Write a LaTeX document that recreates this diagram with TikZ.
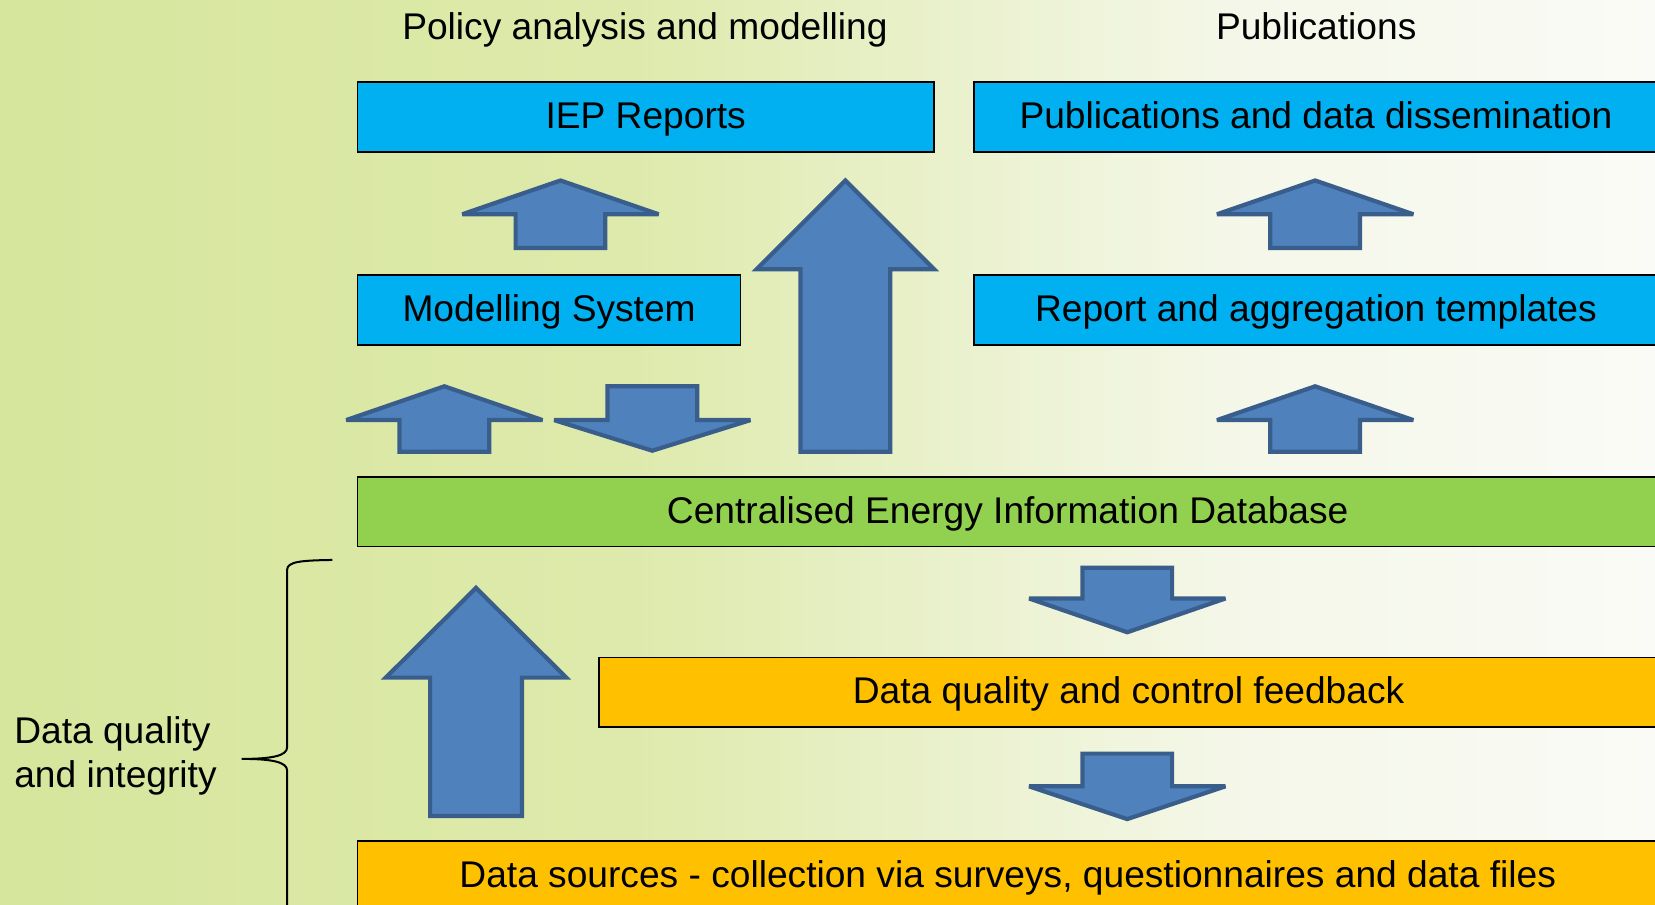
\documentclass[tikz,border=0pt]{standalone}
\usepackage{fontspec}
\setmainfont{Liberation Sans}
\usetikzlibrary{
    positioning % for placing nodes relative to other nodes
}

\definecolor{boxblue}{HTML}{00B0F0}
\definecolor{boxgreen}{HTML}{92D050}
\definecolor{boxorange}{HTML}{FFC000}
\definecolor{arrowfill}{HTML}{4F81BD}
\definecolor{arrowline}{HTML}{3A5E8C}
\definecolor{bgleft}{RGB}{214,230,156}
\definecolor{bgmid}{RGB}{222,234,172}
\definecolor{bglight}{RGB}{244,247,232}
\definecolor{bgright}{RGB}{250,251,246}

\pgfdeclarehorizontalshading{slidebg}{100bp}{color(0bp)=(bgleft); color(25bp)=(bgleft);
    color(44bp)=(bgmid); color(62bp)=(bglight); color(75bp)=(bgright); color(100bp)=(bgright)}

% block arrow: centre x, tip y, head base y, tail y, half head width, half shaft width
\newcommand{\blockarrow}[6]{
    \filldraw[block arrow] (#1,#2) -- ({#1+#5},#3) -- ({#1+#6},#3) -- ({#1+#6},#4)
        -- ({#1-#6},#4) -- ({#1-#6},#3) -- ({#1-#5},#3) -- cycle;
}

\begin{document}
\begin{tikzpicture}[
    x=1pt,y=-1pt,
    every node/.style   = {font=\fontsize{35.2}{42.2}\selectfont},
    one line/.style     = {text height=26pt,text depth=4.4pt},
    box/.style          = {one line,draw=black,line width=1.5pt,inner sep=0pt,minimum height=66pt},
    blue box/.style     = {box,fill=boxblue},
    green box/.style    = {box,fill=boxgreen},
    orange box/.style   = {box,fill=boxorange},
    block arrow/.style  = {fill=arrowfill,draw=arrowline,line width=4pt,miter limit=3},
    brace line/.style   = {draw=black,line width=1.9pt}
]

\useasboundingbox (0,0) rectangle (1568,857);
\clip (0,0) rectangle (1568,857);
\shade[shading=slidebg] (0,0) rectangle (1568,857);

% column headings

    \node [one line] (polhead) at (611,27)  {Policy analysis and modelling};
    \node [one line] (pubhead) at (1247,27) {Publications};

% boxes

    \node [blue box,minimum width=546pt,anchor=north west]   (iep)   at (338,77)  {IEP Reports};
    \node [blue box,minimum width=648pt] (pubs)  [right=36.5pt of iep]           {Publications and data dissemination};
    \node [blue box,minimum width=363pt,anchor=north west]   (model) at (338,260) {Modelling System};
    \node [blue box,minimum width=648pt] (templ) [below=115.5pt of pubs]         {Report and aggregation templates};
    \node [green box,minimum width=1232pt,anchor=north west] (cdb)   at (338,451) {Centralised Energy Information Database};
    \node [orange box,minimum width=1003pt,anchor=north west](dqc)   at (567,622) {Data quality and control feedback};
    \node [orange box,minimum width=1232pt,anchor=north west](src)   at (338,796) {Data sources - collection via surveys, questionnaires and data files};

% block arrows

    \blockarrow{531}{171}{203}{235}{93}{42.5}
    \blockarrow{801}{171}{255}{428}{84}{42.5}
    \blockarrow{421}{366}{398}{428}{93}{42.5}
    \blockarrow{618}{427}{398}{366}{93}{42.5}
    \blockarrow{1246}{171}{203}{235}{93}{42.5}
    \blockarrow{1246}{366}{398}{428}{93}{42.5}
    \blockarrow{1068}{599}{567}{538}{93}{42.5}
    \blockarrow{1068}{776}{745}{714}{93}{42.5}
    \blockarrow{451}{557}{642}{773}{85.5}{43.5}

% brace with its label

    \node [align=left,anchor=west] (dqi) at (10,716) {Data quality\\and integrity};
    \draw[brace line] (315,530.5) .. controls (285,531) and (272,532) .. (272,540)
        -- (272,708) .. controls (272,716) and (258,719) .. (229,719)
        .. controls (258,719) and (272,722) .. (272,730) -- (272,870);

\end{tikzpicture}
\end{document}
